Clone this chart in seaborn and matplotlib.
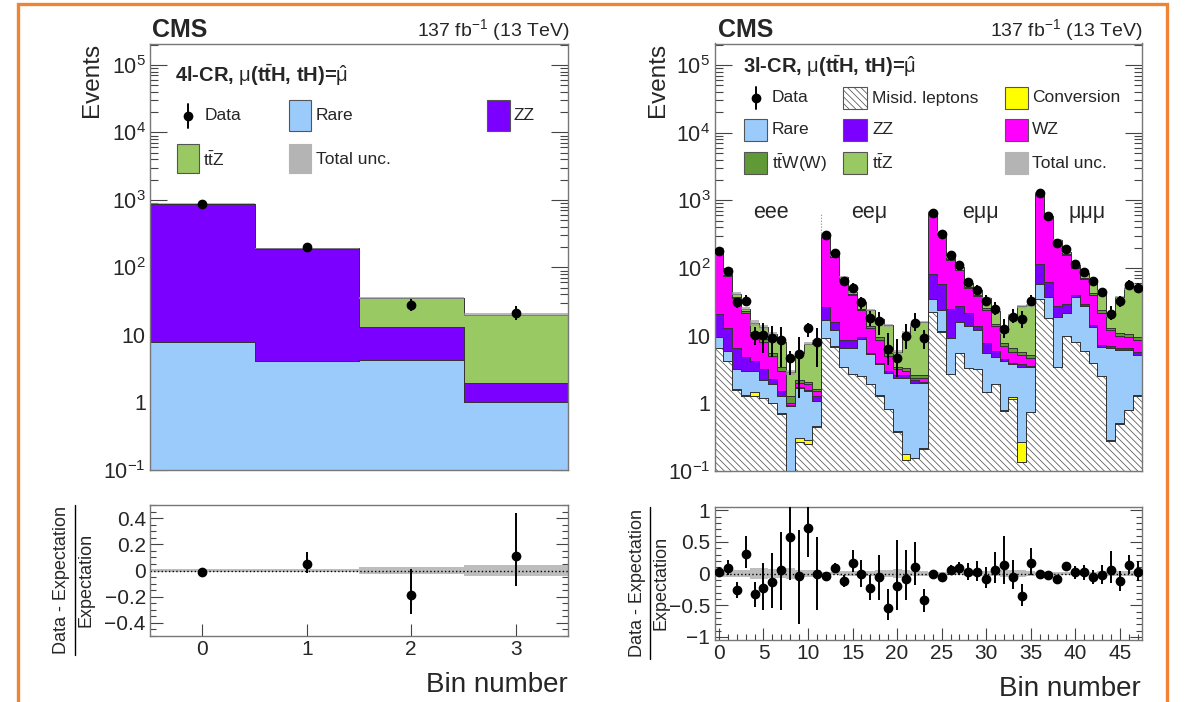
import numpy as np
import pandas as pd
import matplotlib
matplotlib.use("Agg")
import matplotlib.pyplot as plt
import seaborn as sns
from matplotlib.patches import Rectangle
from matplotlib.lines import Line2D
from matplotlib.ticker import FixedLocator, MultipleLocator, NullFormatter, LogLocator, FixedFormatter

# ---------------- 4l control region (left) ----------------
l_bins = [0, 1, 2, 3]
l_rare = [7.9, 4.05, 4.3, 1.0]
l_zz = [872.0, 186.0, 9.0, 0.93]
l_ttz = [5.0, 3.0, 21.7, 18.0]
l_data = [873, 203, 27.4, 21.0]
l_ratio = [-0.013, 0.053, -0.19, 0.11]
l_ratio_lo = [-0.03, -0.02, -0.33, -0.12]
l_ratio_hi = [0.005, 0.14, 0.015, 0.44]
l_unc = [0.01, 0.015, 0.028, 0.045]

# ---------------- 3l control region (right), stack tops ----------------
r_bins = list(range(48))
top_misid = [6.5, 4.2, 1.6, 1.3, 1.3, 1.2, 1.0, 0.7, 0.08, 0.27, 0.25, 0.45,
             9.2, 6.9, 3.4, 2.7, 2.5, 1.9, 1.3, 0.83, 0.38, 0.146, 0.154, 0.215,
             22.5, 11.5, 2.7, 5.5, 3.35, 3.2, 1.45, 1.9, 0.78, 1.16, 0.137, 0.74,
             35, 18, 3.4, 10, 8, 6, 4, 2.5, 0.28, 0.5, 0.8, 1.3]
top_conv = [6.52, 4.21, 1.61, 1.31, 1.45, 1.21, 1.01, 0.71, 0.081, 0.31, 0.29, 0.455,
            9.22, 6.92, 3.41, 2.71, 2.51, 1.91, 1.31, 0.835, 0.385, 0.18, 0.156, 0.217,
            22.55, 11.53, 2.71, 5.52, 3.36, 3.21, 1.46, 1.91, 0.79, 1.22, 0.27, 0.745,
            35.1, 18.05, 3.41, 10.02, 8.02, 6.02, 4.01, 2.51, 0.285, 0.505, 0.805, 1.31]
top_rare = [9.5, 6.0, 3.2, 3.0, 3.0, 2.2, 1.9, 1.3, 0.9, 1.7, 1.5, 1.1,
            17, 12, 6.5, 6.5, 9.0, 5.3, 3.75, 2.8, 2.4, 2.4, 2.0, 2.0,
            35, 24, 9.2, 16, 14, 12, 5.5, 4.8, 4.2, 3.8, 3.5, 3.4,
            58, 37, 19, 22, 37, 27, 13.6, 6.9, 6.6, 6.2, 6.2, 5.2]
top_zz = [21, 13, 6.5, 4.8, 4.2, 3.2, 2.3, 1.5, 0.95, 1.75, 1.6, 1.3,
          26.6, 16, 8.7, 8.7, 9.5, 5.6, 4.0, 3.0, 2.6, 2.6, 2.2, 2.1,
          82, 58, 25, 27, 22, 14, 7.8, 6.0, 4.5, 4.0, 3.8, 3.6,
          115, 62, 27, 29, 40, 29, 14.5, 7.2, 7.0, 6.6, 6.6, 5.8]
top_wz = [165, 77, 36, 22, 10, 8, 5, 3.0, 1.0, 2.0, 1.9, 1.5,
          290, 145, 64, 40, 24, 13, 8.5, 5.0, 3.2, 3.0, 2.4, 2.4,
          630, 310, 130, 92, 50, 38, 24, 14, 7.0, 5.8, 5.2, 4.6,
          1250, 550, 225, 155, 100, 68, 40, 22, 12, 10, 9.5, 8.5]
top_ttw = [166, 78, 37, 23, 11.5, 9, 5.6, 3.4, 1.3, 2.2, 2.1, 1.65,
           292, 147, 66, 41, 25, 14, 9.5, 5.6, 3.5, 3.3, 2.6, 2.6,
           635, 315, 134, 95, 53, 40, 25.5, 15, 7.8, 6.5, 5.8, 5.2,
           1260, 555, 230, 160, 104, 72, 43, 24, 13, 11, 10.5, 9.5]
top_total = [174, 82.5, 42, 25.2, 15.4, 13.4, 10.6, 8.1, 2.9, 5.6, 7.6, 8.2,
             318, 155, 74, 43.6, 31.3, 24, 17.4, 14.2, 5.75, 11, 14.2, 15.9,
             670, 340, 146, 102, 61, 46.6, 36, 23.4, 11.2, 20.2, 27.2, 28,
             1290, 580, 257, 170, 112, 84.5, 68, 45, 20, 37, 50, 50]
r_data = [179, 90, 31, 33, 10.3, 10.3, 9.2, 8.5, 4.6, 5.4, 13, 8.2,
          307, 169, 65, 51, 31, 18.4, 16.5, 6.4, 4.6, 10, 15.6, 9.2,
          650, 313, 155, 110, 62, 48, 33, 24.6, 12.6, 19, 17.4, 32.6,
          1290, 580, 237, 190, 114, 87, 64, 44, 21, 32.5, 57, 51]
r_ratio = [0.03, 0.09, -0.26, 0.31, -0.33, -0.23, -0.13, 0.05, 0.58, -0.04, 0.72, 0.0,
           -0.04, 0.09, -0.12, 0.17, -0.01, -0.23, -0.05, -0.55, -0.2, -0.09, 0.1, -0.42,
           -0.01, -0.06, 0.06, 0.08, 0.02, 0.03, -0.08, 0.05, 0.13, -0.06, -0.36, 0.16,
           0.0, -0.02, -0.08, 0.12, 0.02, 0.03, -0.06, -0.02, 0.05, -0.12, 0.13, 0.02]
r_ratio_hi = [0.11, 0.21, -0.13, 0.6, -0.13, 0.16, 0.32, 0.66, 1.05, 0.68, 1.05, 0.58,
              -0.01, 0.16, -0.02, 0.37, 0.21, -0.03, 0.29, -0.24, 0.53, 0.37, 0.5, -0.24,
              0.02, -0.02, 0.14, 0.18, 0.17, 0.2, 0.11, 0.34, 0.59, 0.22, -0.16, 0.4,
              0.02, 0.02, -0.03, 0.18, 0.12, 0.14, 0.06, 0.14, 0.35, 0.04, 0.3, 0.19]
r_ratio_lo = [-0.05, -0.03, -0.39, 0.08, -0.53, -0.58, -0.55, -0.58, -0.1, -0.79, 0.26, -0.58,
              -0.07, 0.03, -0.22, 0.03, -0.21, -0.42, -0.42, -0.74, -0.58, -0.42, -0.18, -0.6,
              -0.04, -0.1, -0.02, -0.02, -0.1, -0.12, -0.23, -0.15, -0.17, -0.25, -0.52, -0.02,
              -0.02, -0.05, -0.12, 0.06, -0.08, -0.1, -0.17, -0.17, -0.15, -0.28, -0.01, -0.12]
r_unc = [0.05, 0.05, 0.05, 0.06, 0.09, 0.09, 0.07, 0.07, 0.09, 0.06, 0.05, 0.05,
         0.03, 0.03, 0.04, 0.04, 0.04, 0.04, 0.05, 0.06, 0.07, 0.05, 0.04, 0.04,
         0.03, 0.03, 0.03, 0.03, 0.04, 0.04, 0.04, 0.04, 0.05, 0.05, 0.05, 0.04,
         0.03, 0.03, 0.03, 0.03, 0.03, 0.03, 0.03, 0.04, 0.04, 0.04, 0.04, 0.04]
channels = ["eee", "ee\u03bc", "e\u03bc\u03bc", "\u03bc\u03bc\u03bc"]
channel_pos = [5.8, 16.9, 29.4, 41.3]

colors = {"Misid": "#ffffff", "Conv": "#ffff00", "Rare": "#9bcbfb", "ZZ": "#7b00ff",
          "WZ": "#ff00ff", "ttW": "#5f9a36", "ttZ": "#98c963"}
HATCH = "\\\\\\\\\\"

# ---------------- style ----------------
sns.set_style("ticks")
plt.rcParams["font.family"] = ["Liberation Sans", "DejaVu Sans"]
plt.rcParams["mathtext.fontset"] = "custom"
plt.rcParams["mathtext.rm"] = "Liberation Sans"
plt.rcParams["mathtext.it"] = "Liberation Sans:italic"
plt.rcParams["mathtext.bf"] = "Liberation Sans:bold"
plt.rcParams["hatch.linewidth"] = 0.55

W, H = 1192, 702
fig = plt.figure(figsize=(W / 100, H / 100), dpi=100)


def fx(x):
    return x / W


def fy(y):
    return 1 - y / H


def add_axes(x0, y0, x1, y1):
    return fig.add_axes([fx(x0), fy(y1), fx(x1) - fx(x0), fy(y0) - fy(y1)])


axL = add_axes(150, 43.5, 568, 470)
axLr = add_axes(150, 505, 568, 636)
axR = add_axes(714.5, 43.5, 1142, 471)
axRr = add_axes(714.5, 507, 1142, 640)


def stacked(ax, bins, comps, order):
    names, xs, ws = [], [], []
    for name, vals in comps.items():
        names += [name] * len(bins)
        xs += [float(b) for b in bins]
        ws += [float(v) for v in vals]
    df = pd.DataFrame({"bin": xs, "process": names, "yield": ws})
    sns.histplot(data=df, x="bin", weights="yield", hue="process", hue_order=order,
                 palette=colors, multiple="stack", element="step", fill=True,
                 discrete=True, alpha=1, linewidth=0.7, edgecolor="#333333",
                 legend=False, ax=ax)
    for coll in ax.collections:
        fc = coll.get_facecolor()
        if len(fc) and np.allclose(fc[0][:3], 1.0):
            coll.set_hatch(HATCH)
            coll.set_edgecolor("#555555")
    ax.set_xlabel("")
    ax.set_ylabel("")
    return np.arange(-0.5, len(bins) + 0.5, 1.0)


def step_band(ax, edges, lo, hi, **kw):
    lo = np.append(lo, lo[-1])
    hi = np.append(hi, hi[-1])
    ax.fill_between(edges, lo, hi, step="post", **kw)


# ---------- left stack ----------
l_comps = {"Rare": l_rare, "ZZ": l_zz, "ttZ": l_ttz}
edgesL = stacked(axL, l_bins, l_comps, ["ttZ", "ZZ", "Rare"])
l_tot = np.array(l_rare) + np.array(l_zz) + np.array(l_ttz)
step_band(axL, edgesL, l_tot * (1 - np.array(l_unc)), l_tot * (1 + np.array(l_unc)),
          color="#9a9a9a", alpha=0.7, lw=0, zorder=3)
ld = np.array(l_data)
lr = np.array(l_ratio)
axL.errorbar(l_bins, ld, yerr=[ld * (lr - np.array(l_ratio_lo)) / (1 + lr),
                               ld * (np.array(l_ratio_hi) - lr) / (1 + lr)],
             fmt="o", color="k", ms=6, elinewidth=1.4, capsize=0, zorder=6)

# ---------- right stack ----------
levels = np.vstack([top_misid, top_conv, top_rare, top_zz, top_wz, top_ttw, top_total])
comp_arr = np.clip(np.diff(np.vstack([np.zeros(48), levels]), axis=0), 0, None)
r_names = ["Misid", "Conv", "Rare", "ZZ", "WZ", "ttW", "ttZ"]
r_comps = {n: comp_arr[i] for i, n in enumerate(r_names)}
edgesR = stacked(axR, r_bins, r_comps, r_names[::-1])
r_tot = np.array(top_total)
ru = np.array(r_unc)
step_band(axR, edgesR, r_tot * (1 - ru), r_tot * (1 + ru), color="#9a9a9a", alpha=0.7, lw=0, zorder=3)
rd = np.array(r_data)
rr = np.array(r_ratio)
axR.errorbar(r_bins, rd, yerr=[rd * (rr - np.array(r_ratio_lo)) / (1 + rr),
                               rd * (np.array(r_ratio_hi) - rr) / (1 + rr)],
             fmt="o", color="k", ms=6, elinewidth=1.4, capsize=0, zorder=6)
for name, pos in zip(channels, channel_pos):
    axR.text(pos, 660, name, ha="center", va="center", fontsize=15.5)
axR.vlines(11.5, 300, 620, colors="#888888", linestyles=":", lw=0.8)

# ---------- ratio panels ----------
step_band(axLr, edgesL, -np.array(l_unc), np.array(l_unc), color="#bdbdbd", lw=0)
axLr.axhline(0, color="k", ls=":", lw=1.0)
axLr.errorbar(l_bins, lr, yerr=[lr - np.array(l_ratio_lo), np.array(l_ratio_hi) - lr],
              fmt="o", color="k", ms=6, elinewidth=1.4, capsize=0, zorder=6)

step_band(axRr, edgesR, -ru, ru, color="#bdbdbd", lw=0)
axRr.axhline(0, color="k", ls=":", lw=1.0)
axRr.errorbar(r_bins, rr, yerr=[rr - np.array(r_ratio_lo), np.array(r_ratio_hi) - rr],
              fmt="o", color="k", ms=6, elinewidth=1.4, capsize=0, zorder=6)

# ---------- axes styling ----------
log_major = [1e-1, 1, 10, 1e2, 1e3, 1e4, 1e5]
log_labels = ["$10^{-1}$", "1", "10", "$10^{2}$", "$10^{3}$", "$10^{4}$", "$10^{5}$"]
for ax in (axL, axR):
    ax.set_yscale("log")
    ax.set_ylim(0.1, 2.08e5)
    ax.yaxis.set_major_locator(FixedLocator(log_major))
    ax.yaxis.set_major_formatter(FixedFormatter(log_labels))
    ax.yaxis.set_minor_locator(LogLocator(base=10, subs=np.arange(2, 10), numticks=20))
    ax.yaxis.set_minor_formatter(NullFormatter())
    ax.tick_params(axis="x", labelbottom=False)

axL.set_xlim(-0.5, 3.5)
axLr.set_xlim(-0.5, 3.5)
for ax in (axL, axLr):
    ax.xaxis.set_major_locator(FixedLocator([0, 1, 2, 3]))
axR.set_xlim(-0.5, 47.5)
axRr.set_xlim(-0.5, 47.5)
for ax in (axR, axRr):
    ax.xaxis.set_major_locator(MultipleLocator(5))
    ax.xaxis.set_minor_locator(MultipleLocator(1))

axLr.set_ylim(-0.5, 0.5)
axLr.yaxis.set_major_locator(FixedLocator([-0.4, -0.2, 0, 0.2, 0.4]))
axLr.yaxis.set_major_formatter(FixedFormatter(["\u22120.4", "\u22120.2", "0", "0.2", "0.4"]))
axLr.yaxis.set_minor_locator(MultipleLocator(0.05))
axRr.set_ylim(-1.05, 1.05)
axRr.yaxis.set_major_locator(FixedLocator([-1, -0.5, 0, 0.5, 1]))
axRr.yaxis.set_major_formatter(FixedFormatter(["\u22121", "\u22120.5", "0", "0.5", "1"]))
axRr.yaxis.set_minor_locator(MultipleLocator(0.1))

for ax in (axL, axLr, axR, axRr):
    ax.tick_params(which="both", direction="in", top=False, right=True,
                   color="#444444", width=0.8, pad=4)
    ax.tick_params(which="major", length=12)
    ax.tick_params(which="minor", length=6)
    for s in ax.spines.values():
        s.set_color("#777777")
        s.set_linewidth(1.0)
    ax.set_facecolor("white")
for ax in (axL, axR):
    ax.tick_params(axis="y", labelsize=15.5, pad=3)
for ax in (axLr, axRr):
    ax.tick_params(which="major", length=9)
    ax.tick_params(which="minor", length=4.5)
    ax.tick_params(axis="both", labelsize=15, pad=3)

# ---------- texts ----------
def ftext(x, y, s, **kw):
    return fig.text(fx(x), fy(y), s, **kw)


for x0, x1 in ((150, 570), (716, 1143)):
    ftext(x0 + 2, 37, "CMS", fontsize=18, fontweight="bold", ha="left", va="baseline")
    ftext(x1, 36, "137 fb$^{-1}$ (13 TeV)", fontsize=14, ha="right", va="baseline")

ftext(92, 43, "Events", fontsize=17.5, rotation=90, ha="center", va="top")
ftext(658, 43, "Events", fontsize=17.5, rotation=90, ha="center", va="top")
ftext(568, 692, "Bin number", fontsize=20, ha="right", va="baseline")
ftext(1141, 696, "Bin number", fontsize=20, ha="right", va="baseline")


def frac_label(xnum, xline, xden, y0, y1, yc):
    ftext(xnum, yc, "Data - Expectation", fontsize=13, rotation=90, ha="center", va="center")
    ftext(xden, yc, "Expectation", fontsize=13, rotation=90, ha="center", va="center")
    fig.add_artist(Line2D([fx(xline), fx(xline)], [fy(y0), fy(y1)], transform=fig.transFigure,
                          color="k", lw=1.0))


frac_label(62, 75, 86, 505, 655, 580)
frac_label(637, 650, 661, 507, 659, 583)

ftext(175, 75, "4l-CR, $\\mathrm{\\mu}$(t$\\bar{\\mathbf{t}}$H, tH)=$\\hat{\\mathrm{\\mu}}$",
      fontsize=14.5, fontweight="bold", ha="left", va="center")
ftext(743, 66, "3l-CR, $\\mathrm{\\mu}$(t$\\bar{\\mathbf{t}}$H, tH)=$\\hat{\\mathrm{\\mu}}$",
      fontsize=14.5, fontweight="bold", ha="left", va="center")


def leg_box(x0, y0, x1, y1, fc, hatch=None, ec="#555555"):
    r = Rectangle((fx(x0), fy(y1)), fx(x1) - fx(x0), fy(y0) - fy(y1), transform=fig.transFigure,
                  facecolor=fc, edgecolor=ec, lw=0.8, hatch=hatch)
    fig.add_artist(r)


def leg_data(x, y, h):
    fig.add_artist(Line2D([fx(x), fx(x)], [fy(y - h), fy(y + h)], transform=fig.transFigure,
                          color="k", lw=1.4))
    fig.add_artist(Line2D([fx(x)], [fy(y)], transform=fig.transFigure, marker="o", ms=6,
                          color="k", lw=0))


def leg_text(x, y, s):
    ftext(x, y, s, fontsize=12.5, ha="left", va="center")


ttbar = "t$\\bar{\\mathrm{t}}$"
# left legend
leg_data(188, 116, 12)
leg_text(205, 116, "Data")
leg_box(289, 100, 311, 131, colors["Rare"])
leg_text(316, 116, "Rare")
leg_box(487, 100, 510, 131, colors["ZZ"])
leg_text(514, 116, "ZZ")
leg_box(177, 144, 199, 173, colors["ttZ"])
leg_text(203, 160, ttbar + "Z")
leg_box(289, 144, 311, 173, "#b4b4b4", ec="#b4b4b4")
leg_text(316, 160, "Total unc.")

# right legend
leg_data(756, 98, 11)
leg_text(772, 98, "Data")
leg_box(843, 87, 867, 109, "white", hatch=HATCH)
leg_text(872, 98, "Misid. leptons")
leg_box(1005, 87, 1028, 109, colors["Conv"])
leg_text(1032, 98, "Conversion")
leg_box(744, 119, 767, 141, colors["Rare"])
leg_text(772, 130, "Rare")
leg_box(843, 119, 867, 141, colors["ZZ"])
leg_text(872, 130, "ZZ")
leg_box(1005, 119, 1028, 141, colors["WZ"])
leg_text(1032, 130, "WZ")
leg_box(744, 152, 767, 174, colors["ttW"])
leg_text(772, 163, ttbar + "W(W)")
leg_box(843, 152, 867, 174, colors["ttZ"])
leg_text(872, 163, ttbar + "Z")
leg_box(1005, 152, 1028, 174, "#b4b4b4", ec="#b4b4b4")
leg_text(1032, 163, "Total unc.")

# orange frame around the figure
fig.add_artist(Rectangle((fx(18), -0.02), fx(1167) - fx(18), fy(4) + 0.02, transform=fig.transFigure,
                         fill=False, edgecolor="#ee8434", lw=2.4))

fig.savefig("out.png", dpi=100, facecolor="white")
